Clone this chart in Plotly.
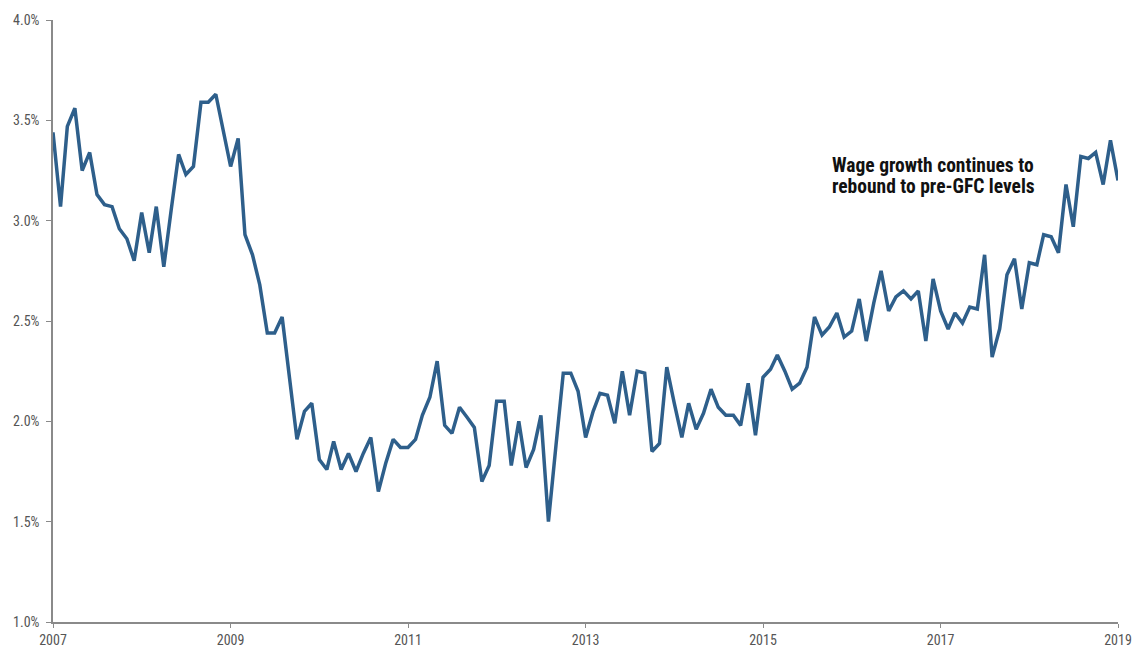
import pandas as pd
import plotly.graph_objects as go

start_month = "2007-01-01"
wage_growth = [
    3.44, 3.07, 3.47, 3.56, 3.25, 3.34, 3.13, 3.08, 3.07, 2.96, 2.91, 2.80,
    3.04, 2.84, 3.07, 2.77, 3.05, 3.33, 3.23, 3.27, 3.59, 3.59, 3.63, 3.45,
    3.27, 3.41, 2.93, 2.83, 2.68, 2.44, 2.44, 2.52, 2.21, 1.91, 2.05, 2.09,
    1.81, 1.76, 1.90, 1.76, 1.84, 1.75, 1.84, 1.92, 1.65, 1.79, 1.91, 1.87,
    1.87, 1.91, 2.03, 2.12, 2.30, 1.98, 1.94, 2.07, 2.02, 1.97, 1.70, 1.78,
    2.10, 2.10, 1.78, 2.00, 1.77, 1.86, 2.03, 1.50, 1.88, 2.24, 2.24, 2.15,
    1.92, 2.05, 2.14, 2.13, 1.99, 2.25, 2.03, 2.25, 2.24, 1.85, 1.89, 2.27,
    2.09, 1.92, 2.09, 1.96, 2.04, 2.16, 2.07, 2.03, 2.03, 1.98, 2.19, 1.93,
    2.22, 2.26, 2.33, 2.25, 2.16, 2.19, 2.27, 2.52, 2.43, 2.47, 2.54, 2.42,
    2.45, 2.61, 2.40, 2.59, 2.75, 2.55, 2.62, 2.65, 2.61, 2.65, 2.40, 2.71,
    2.55, 2.46, 2.54, 2.49, 2.57, 2.56, 2.83, 2.32, 2.46, 2.73, 2.81, 2.56,
    2.79, 2.78, 2.93, 2.92, 2.84, 3.18, 2.97, 3.32, 3.31, 3.34, 3.18, 3.40,
    3.20,
]
x_tick_years = ["2007", "2009", "2011", "2013", "2015", "2017", "2019"]
y_tick_values = [1.0, 1.5, 2.0, 2.5, 3.0, 3.5, 4.0]
y_tick_labels = ["1.0%", "1.5%", "2.0%", "2.5%", "3.0%", "3.5%", "4.0%"]
annotation_lines = ["Wage growth continues to", "rebound to pre-GFC levels"]

months = pd.date_range(start_month, periods=len(wage_growth), freq="MS")
tick_dates = [pd.Timestamp(f"{y}-01-01") for y in x_tick_years]

FONT = "Roboto Condensed, Liberation Sans Narrow, Arial Narrow, Roboto, sans-serif"

fig = go.Figure()
fig.add_trace(go.Scatter(
    x=months, y=wage_growth, mode="lines",
    line=dict(color="#2e5f8b", width=3.5),
    hoverinfo="skip", showlegend=False,
))

fig.update_layout(
    width=1133, height=647,
    margin=dict(l=53, r=15, t=20, b=25),
    paper_bgcolor="white", plot_bgcolor="white",
    font=dict(family=FONT, size=14, color="#555555"),
    showlegend=False,
)
fig.update_xaxes(
    range=[tick_dates[0], tick_dates[-1]],
    tickvals=tick_dates, ticktext=x_tick_years,
    showgrid=False, zeroline=False, automargin=False,
    showline=True, linecolor="#8a8a8a", linewidth=1.5,
    ticks="outside", ticklen=4, tickcolor="#8a8a8a", tickwidth=1,
    tickfont=dict(family=FONT, size=14, color="#555555"),
)
fig.update_yaxes(
    range=[1.0, 4.0],
    tickvals=y_tick_values, ticktext=y_tick_labels,
    showgrid=False, zeroline=False, automargin=False,
    showline=True, linecolor="#8a8a8a", linewidth=1.5,
    ticks="outside", ticklen=5, tickcolor="#8a8a8a", tickwidth=1,
    ticklabelstandoff=4,
    tickfont=dict(family=FONT, size=14, color="#555555"),
)
for line_text, ypos in zip(annotation_lines, [0.758, 0.723]):
    fig.add_annotation(
        x=0.730, y=ypos, xref="paper", yref="paper",
        xanchor="left", yanchor="middle", align="left",
        text="<b>" + line_text + "</b>",
        showarrow=False,
        font=dict(family=FONT, size=19.5, color="#111111"),
    )

fig.write_html(
    "out.html",
    config={"displayModeBar": False},
    post_script="document.body.style.margin='0';document.body.style.overflow='hidden';",
)
